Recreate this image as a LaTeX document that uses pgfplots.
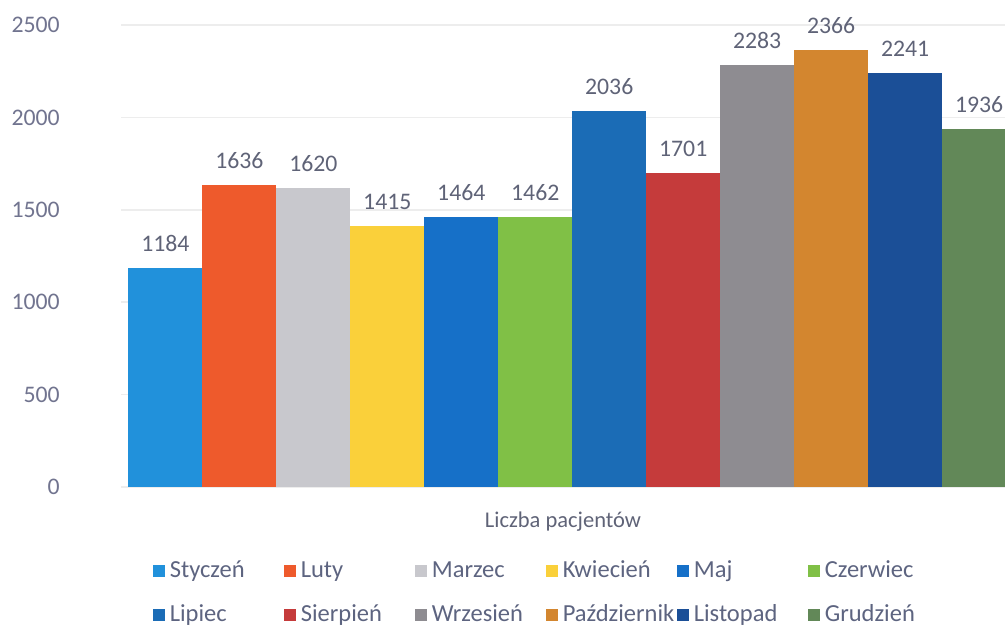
\documentclass[border=0pt]{standalone}
\usepackage{fontspec}
\setmainfont{Carlito}
\usepackage{pgfplots}
\pgfplotsset{compat=1.18}
\definecolor{c1}{HTML}{2191DB}
\definecolor{c2}{HTML}{EE5A2C}
\definecolor{c3}{HTML}{C8C8CD}
\definecolor{c4}{HTML}{FAD03A}
\definecolor{c5}{HTML}{1670C8}
\definecolor{c6}{HTML}{80C046}
\definecolor{c7}{HTML}{1B6CB6}
\definecolor{c8}{HTML}{C53B3B}
\definecolor{c9}{HTML}{8E8C91}
\definecolor{c10}{HTML}{D3862F}
\definecolor{c11}{HTML}{1B4F97}
\definecolor{c12}{HTML}{628858}
\definecolor{tick}{HTML}{71748F}
\definecolor{lbl}{HTML}{5F6377}
\definecolor{leg}{HTML}{5D6480}
\newcommand{\legbox}[1]{\makebox[43.6pt][l]{#1}}
\begin{document}
\begin{tikzpicture}
\path[use as bounding box] (0,0) rectangle (402pt,252.8pt);
\begin{axis}[
  at={(48.4pt,58pt)}, anchor=south west,
  scale only axis, width=353.6pt, height=189.2pt,
  xmin=-0.6, xmax=11.35, ymin=0, ymax=2560,
  ybar, bar width=1,
  xtick=\empty,
  ytick={0,500,1000,1500,2000,2500},
  ymajorgrids, grid style={draw=black!7, line width=0.6pt},
  axis line style={draw=none},
  major tick length=0pt,
  /pgf/number format/assume math mode=true,
  /pgf/number format/1000 sep={},
  yticklabel style={font=\fontsize{9.5}{11}\selectfont, text=tick, anchor=east, xshift=-21pt},
  xlabel={Liczba pacjentów},
  xlabel style={font=\fontsize{9}{11}\selectfont, text=lbl, at={(axis description cs:0.5,0)}, anchor=center, yshift=-14pt},
  nodes near coords,
  nodes near coords style={font=\fontsize{9.5}{11}\selectfont, text=lbl, anchor=south, yshift=3pt},
  legend columns=6,
  legend cell align=left,
  legend style={draw=none, fill=none, inner sep=0pt, outer sep=0pt,
    at={(0.036,-0.146)}, anchor=north west,
    font=\fontsize{9.8}{11}\selectfont, text=leg,
    /tikz/every even column/.append style={column sep=0pt},
    /tikz/every odd column/.append style={column sep=0pt},
    row sep=5.2pt},
  legend image code/.code={\fill[#1] (0pt,-2.4pt) rectangle (4.8pt,2.4pt);},
]
\addplot[fill=c1, draw=none, bar shift=0pt] coordinates {(0,1184)};
\addlegendentry{\legbox{Styczeń}}
\addplot[fill=c2, draw=none, bar shift=0pt] coordinates {(1,1636)};
\addlegendentry{\legbox{Luty}}
\addplot[fill=c3, draw=none, bar shift=0pt] coordinates {(2,1620)};
\addlegendentry{\legbox{Marzec}}
\addplot[fill=c4, draw=none, bar shift=0pt] coordinates {(3,1415)};
\addlegendentry{\legbox{Kwiecień}}
\addplot[fill=c5, draw=none, bar shift=0pt] coordinates {(4,1464)};
\addlegendentry{\legbox{Maj}}
\addplot[fill=c6, draw=none, bar shift=0pt] coordinates {(5,1462)};
\addlegendentry{\legbox{Czerwiec}}
\addplot[fill=c7, draw=none, bar shift=0pt] coordinates {(6,2036)};
\addlegendentry{\legbox{Lipiec}}
\addplot[fill=c8, draw=none, bar shift=0pt] coordinates {(7,1701)};
\addlegendentry{\legbox{Sierpień}}
\addplot[fill=c9, draw=none, bar shift=0pt] coordinates {(8,2283)};
\addlegendentry{\legbox{Wrzesień}}
\addplot[fill=c10, draw=none, bar shift=0pt] coordinates {(9,2366)};
\addlegendentry{\legbox{Październik}}
\addplot[fill=c11, draw=none, bar shift=0pt] coordinates {(10,2241)};
\addlegendentry{\legbox{Listopad}}
\addplot[fill=c12, draw=none, bar shift=0pt] coordinates {(11,1936)};
\addlegendentry{\legbox{Grudzień}}
\end{axis}
\end{tikzpicture}
\end{document}
